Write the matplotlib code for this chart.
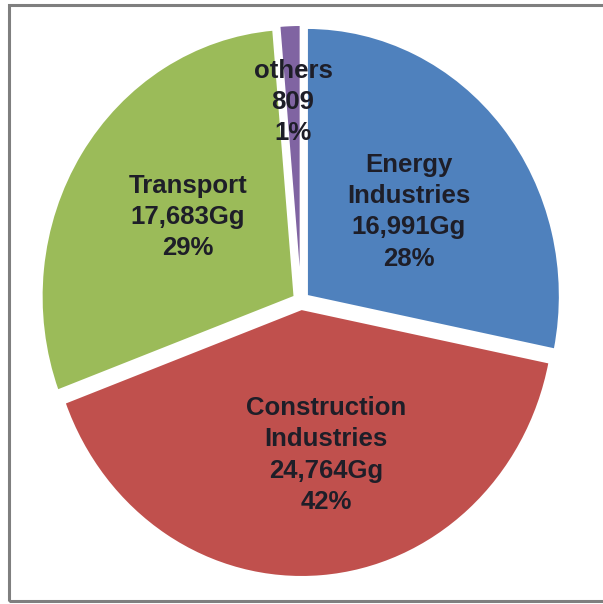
import numpy as np
import matplotlib
matplotlib.use("Agg")
import matplotlib.pyplot as plt
from matplotlib.patches import Rectangle

sectors = ["Energy\nIndustries", "Construction\nIndustries", "Transport", "others"]
emissions = [16991, 24764, 17683, 809]
value_text = ["16,991Gg", "24,764Gg", "17,683Gg", "809"]
pct_text = ["28%", "42%", "29%", "1%"]
colors = ["#4F81BD", "#C0504D", "#9BBB59", "#8064A2"]

fig = plt.figure(figsize=(6.03, 6.04), dpi=100)
ax = fig.add_axes([0, 0, 1, 1])

wedges, _ = ax.pie(emissions, colors=colors, startangle=90, counterclock=False,
                   explode=[0.03] * 4, radius=1.0,
                   wedgeprops=dict(edgecolor="white", linewidth=1.5))

# label placement: fraction of radius and small angle nudge (deg)
label_r = [0.54, 0.583, 0.546, 0.744]
label_da = [-1.2, 5.3, -2.7, 0]
for w, name, val, pct, r, da in zip(wedges, sectors, value_text, pct_text, label_r, label_da):
    mid = np.deg2rad((w.theta1 + w.theta2) / 2 + da)
    x, y = r * np.cos(mid), r * np.sin(mid)
    ax.text(x, y, f"{name}\n{val}\n{pct}", ha="center", va="center",
            fontsize=18.5, fontweight="bold", family="Liberation Sans",
            color="#1e1e28", linespacing=1.38)

# pixel scale: centre at (301, 301), slightly taller than wide
sx, sy = 253.0, 268.0
cx, cy = 301.0, 301.0
ax.set_aspect("auto")
ax.set_xlim(-cx / sx, (603 - cx) / sx)
ax.set_ylim(-(604 - cy) / sy, cy / sy)
ax.axis("off")

fig.patches.append(Rectangle((9 / 603, 3 / 604), 1.2, 596 / 604, transform=fig.transFigure,
                             fill=False, edgecolor="#7f7f7f", linewidth=2.2))

fig.savefig("out.png", dpi=100)
